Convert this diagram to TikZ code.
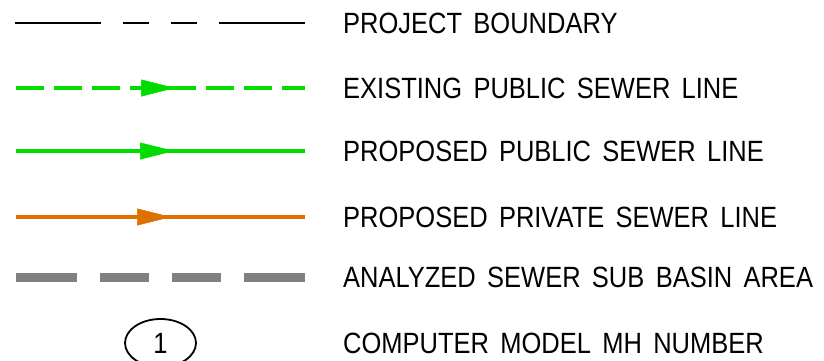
\documentclass[tikz,border=0pt]{standalone}
\usepackage{fontspec}
\setmainfont{Liberation Sans}[FakeStretch=0.87, WordSpace=1.6]
\usetikzlibrary{arrows.meta}
\usetikzlibrary{shapes.geometric}
\definecolor{sewergreen}{RGB}{0,220,0}
\definecolor{sewerorange}{RGB}{222,112,0}
\definecolor{basingray}{RGB}{128,128,128}
\newcommand\legendfont{\fontsize{29.3}{30}\selectfont}
\tikzstyle{legendtext} = [anchor=west, inner sep=0pt, text height=21pt, text depth=0pt, font=\legendfont]
\tikzstyle{boundary} = [black, line width=2.6pt, dash pattern=on 86pt off 22pt on 26pt off 22pt on 26pt off 22pt on 86pt off 22pt]
\tikzstyle{existing} = [sewergreen, line width=3.5pt, dash pattern=on 28pt off 10pt]
\tikzstyle{proposed} = [sewergreen, line width=3.5pt]
\tikzstyle{private} = [sewerorange, line width=3.5pt]
\tikzstyle{basin} = [basingray, line width=9pt, dash pattern=on 61pt off 23pt on 49pt off 23pt on 49pt off 23pt on 61pt off 23pt]
\tikzstyle{flowtip} = [line width=0.5pt, -{Triangle[length=34pt, width=17pt]}]

\begin{document}
\begin{tikzpicture}[x=1pt, y=-1pt]
	    \useasboundingbox (0,0) rectangle (824,360);

	    % project boundary
	    \coordinate (pb-l) at (15,23);
	    \coordinate (pb-r) at (305,23);
	    \draw[boundary] (pb-l) -- (pb-r);
	    \node[legendtext] (pb-text) at (343,23) {PROJECT BOUNDARY};

	    % existing public sewer
	    \coordinate (ex-l) at (16,88);
	    \coordinate (ex-r) at (305,88);
	    \coordinate (ex-a) at (140,88);
	    \coordinate (ex-m) at (175,88);
	    \draw[existing] (ex-l) -- (ex-r);
	    \draw[flowtip, sewergreen] (ex-a) -- (ex-m);
	    \node[legendtext] (ex-text) at (343,88) {EXISTING PUBLIC SEWER LINE};

	    % proposed public sewer
	    \coordinate (pp-l) at (16,151);
	    \coordinate (pp-r) at (305,151);
	    \coordinate (pp-a) at (140,151);
	    \coordinate (pp-m) at (174,151);
	    \draw[proposed] (pp-l) -- (pp-r);
	    \draw[flowtip, sewergreen] (pp-a) -- (pp-m);
	    \node[legendtext] (pp-text) at (343,151) {PROPOSED PUBLIC SEWER LINE};

	    % proposed private sewer
	    \coordinate (pv-l) at (16,217);
	    \coordinate (pv-r) at (305,217);
	    \coordinate (pv-a) at (139,217);
	    \coordinate (pv-m) at (171,217);
	    \draw[private] (pv-l) -- (pv-r);
	    \draw[flowtip, sewerorange] (pv-a) -- (pv-m);
	    \node[legendtext] (pv-text) at (343,217) {PROPOSED PRIVATE SEWER LINE};

	    % sub basin area
	    \coordinate (sb-l) at (16,277);
	    \coordinate (sb-r) at (305,277);
	    \draw[basin] (sb-l) -- (sb-r);
	    \node[legendtext] (sb-text) at (343,277) {ANALYZED SEWER SUB BASIN AREA};

	    % manhole number
	    \node[draw, ellipse, line width=1.8pt, minimum width=71pt, minimum height=48pt, inner sep=0pt, font=\legendfont] (mh) at (160.5,343) {1};
	    \node[legendtext] (mh-text) at (343,343) {COMPUTER MODEL MH NUMBER};
	\end{tikzpicture}
\end{document}
